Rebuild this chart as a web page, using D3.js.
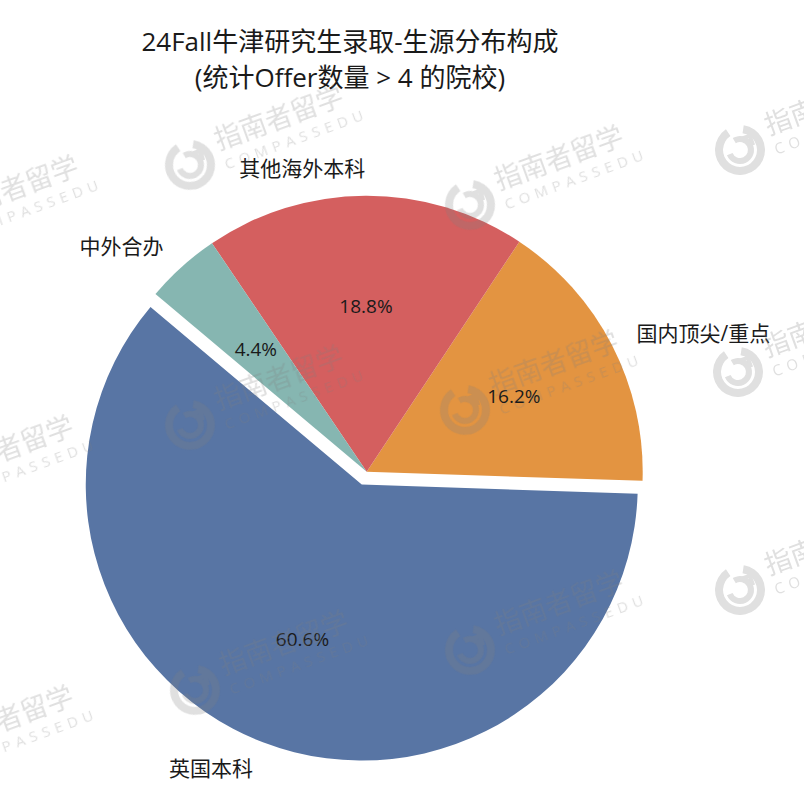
<!DOCTYPE html>
<html>
<head>
<meta charset="utf-8">
<script src="https://cdn.jsdelivr.net/npm/d3@7"></script>
<style>
  html, body { margin: 0; padding: 0; background: #fff; }
  svg { display: block; }
  text { font-family: "Open Sans", "Noto Sans CJK SC", "Noto Sans", sans-serif; }
</style>
</head>
<body>
<svg id="chart" width="804" height="808"></svg>
<script>
// ---- data ----
const titleLines = ["24Fall牛津研究生录取-生源分布构成", "(统计Offer数量 > 4 的院校)"];
const categories = ["国内顶尖/重点", "其他海外本科", "中外合办", "英国本科"];
const values = [16.2, 18.8, 4.4, 60.6];
const colors = ["#e39441", "#d45f5f", "#86b6b1", "#5875a4"];
const explode = [0, 0, 0, 0.05];
const watermarkText = ["指南者留学", "COMPASSEDU"];
const watermarkPos = [[-75, 235], [190, 165], [470, 205], [740, 150],
                      [-80, 495], [190, 425], [465, 410], [738, 372],
                      [-80, 765], [195, 690], [470, 650], [740, 590]];

// ---- layout ----
const svg = d3.select("#chart");
const cx = 366.7, cy = 471.7, R = 276;
const startDeg = -1.9; // start angle, ccw from +x

// title
svg.selectAll("text.title").data(titleLines).join("text")
  .attr("class", "title")
  .attr("x", 350)
  .attr("y", (d, i) => 41 + i * 36)
  .attr("text-anchor", "middle")
  .attr("dominant-baseline", "central")
  .attr("font-size", 26)
  .attr("fill", "#1a1a1a")
  .text(d => d);

// pie: convert ccw-from-x to d3 angle (cw from 12 o'clock)
const a0 = Math.PI / 2 - startDeg * Math.PI / 180;
const pie = d3.pie().sort(null).value(d => d.v)
  .startAngle(a0).endAngle(a0 - 2 * Math.PI);
const data = categories.map((c, i) => ({ c, v: values[i], col: colors[i], ex: explode[i] }));
const arcs = pie(data);
const arc = d3.arc().innerRadius(0).outerRadius(R);

const g = svg.append("g").attr("transform", `translate(${cx},${cy})`);
arcs.forEach(a => {
  const mid = (a.startAngle + a.endAngle) / 2;
  const dx = Math.sin(mid) * a.data.ex * R, dy = -Math.cos(mid) * a.data.ex * R;
  a.off = [dx, dy]; a.mid = mid;
});
g.selectAll("path.slice").data(arcs).join("path")
  .attr("class", "slice")
  .attr("transform", d => `translate(${d.off[0]},${d.off[1]})`)
  .attr("d", d => arc({ startAngle: Math.min(d.startAngle, d.endAngle), endAngle: Math.max(d.startAngle, d.endAngle) }))
  .attr("fill", d => d.data.col);

// category labels at 1.1R
g.selectAll("text.lab").data(arcs).join("text")
  .attr("class", "lab")
  .attr("x", d => d.off[0] + Math.sin(d.mid) * R * 1.1)
  .attr("y", d => d.off[1] - Math.cos(d.mid) * R * 1.1)
  .attr("text-anchor", d => Math.sin(d.mid) > 0 ? "start" : "end")
  .attr("dominant-baseline", "central")
  .attr("font-size", 21)
  .attr("fill", "#1a1a1a")
  .text(d => d.data.c);

// percent labels at 0.6R
g.selectAll("text.pct").data(arcs).join("text")
  .attr("class", "pct")
  .attr("x", d => d.off[0] + Math.sin(d.mid) * R * 0.6)
  .attr("y", d => d.off[1] - Math.cos(d.mid) * R * 0.6)
  .attr("text-anchor", "middle")
  .attr("dominant-baseline", "central")
  .attr("font-size", 19)
  .attr("fill", "#1a1a1a")
  .text(d => d.data.v.toFixed(1) + "%");

// watermarks
const wm = svg.append("g").attr("opacity", 0.25).attr("pointer-events", "none");
const ring = d3.arc().innerRadius(17).outerRadius(25).startAngle(0.5).endAngle(2 * Math.PI - 0.25);
const ring2 = d3.arc().innerRadius(8).outerRadius(14).startAngle(-0.2).endAngle(2 * Math.PI - 1.6);
wm.selectAll("g.w").data(watermarkPos).join("g")
  .attr("class", "w")
  .attr("transform", d => `translate(${d[0]},${d[1]}) rotate(-20)`)
  .each(function () {
    const s = d3.select(this);
    s.append("path").attr("d", ring()).attr("fill", "#808080");
    s.append("path").attr("d", ring2()).attr("fill", "#808080");
    s.append("path").attr("d", "M4,-10 L14,-10 L14,0").attr("fill", "none").attr("stroke", "#808080").attr("stroke-width", 4);
    s.append("text").attr("x", 32).attr("y", -4).attr("font-size", 27)
      .attr("font-family", "Noto Sans CJK SC").attr("fill", "#808080").text(watermarkText[0]);
    s.append("text").attr("x", 33).attr("y", 17).attr("font-size", 15).attr("letter-spacing", 5.2)
      .attr("font-family", "DejaVu Sans").attr("fill", "#808080").text(watermarkText[1]);
  });
</script>
</body>
</html>
